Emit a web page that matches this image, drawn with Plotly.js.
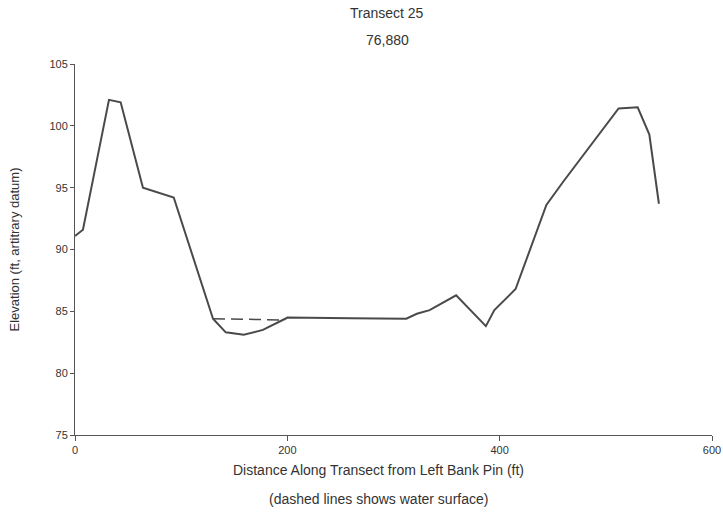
<!DOCTYPE html>
<html>
<head>
<meta charset="utf-8">
<script src="https://cdn.plot.ly/plotly-3.0.1.min.js"></script>
<style>html,body{margin:0;padding:0;background:#fff;}#chart{width:723px;height:532px;}</style>
</head>
<body>
<div id="chart"></div>
<script>
// Ground profile
const distance = [0, 7.5, 32, 43, 64, 93, 130, 142, 159, 177, 198, 200, 260, 312, 322, 334, 359, 387, 395, 415, 444, 460, 512, 530, 541, 550];
const elevation = [91.1, 91.6, 102.1, 101.9, 95.0, 94.2, 84.4, 83.3, 83.1, 83.5, 84.4, 84.5, 84.45, 84.4, 84.8, 85.1, 86.3, 83.8, 85.1, 86.8, 93.6, 95.5, 101.4, 101.5, 99.3, 93.7];
// Water surface
const waterX = [130, 198];
const waterY = [84.4, 84.3];

const yTicks = [75, 80, 85, 90, 95, 100, 105];
const xTicks = [0, 200, 400, 600];
const titleLines = ['Transect 25', '76,880'];
const xTitleLines = ['Distance Along Transect from Left Bank Pin (ft)', '(dashed lines shows water surface)'];

const txt = '#333333';
const traces = [
  {x: distance, y: elevation, mode: 'lines', line: {color: '#4a4a4a', width: 2}, hoverinfo: 'skip'},
  {x: waterX, y: waterY, mode: 'lines', line: {color: '#4a4a4a', width: 1.5, dash: '12px,6px'}, hoverinfo: 'skip'}
];
const ann = (text, x, y, size) => ({text, xref: 'paper', yref: 'paper', x, y, xanchor: 'center', yanchor: 'middle', showarrow: false, font: {size, color: txt}});
const layout = {
  width: 723, height: 532,
  margin: {l: 75, r: 11, t: 64, b: 97},
  paper_bgcolor: '#ffffff', plot_bgcolor: '#ffffff',
  showlegend: false,
  font: {family: 'Liberation Sans, Arial, sans-serif', color: txt, size: 11},
  annotations: [
    // plot area: x 75..712 (637px), y 64..435 (371px)
    ann(titleLines[0], (387 - 75) / 637, (435 - 13) / 371, 14),
    ann(titleLines[1], (387 - 75) / 637, (435 - 40) / 371, 14),
    ann(xTitleLines[0], (378 - 75) / 637, (435 - 470) / 371, 14),
    ann(xTitleLines[1], (378 - 75) / 637, (435 - 499) / 371, 14)
  ],
  xaxis: {
    range: [0, 600], tickvals: xTicks, ticks: 'outside', ticklen: 5, tickcolor: '#555',
    showline: true, linecolor: '#555', linewidth: 1, showgrid: false, zeroline: false,
    tickfont: {size: 11, color: txt}
  },
  yaxis: {
    range: [75, 105], tickvals: yTicks, ticks: 'outside', ticklen: 4, tickcolor: '#555',
    showline: true, linecolor: '#555', linewidth: 1, showgrid: false, zeroline: false,
    tickfont: {size: 11, color: txt},
    title: {text: 'Elevation (ft, artitrary datum)', font: {size: 13, color: txt}, standoff: 26}
  }
};
Plotly.newPlot('chart', traces, layout, {displayModeBar: false, staticPlot: true});
</script>
</body>
</html>
